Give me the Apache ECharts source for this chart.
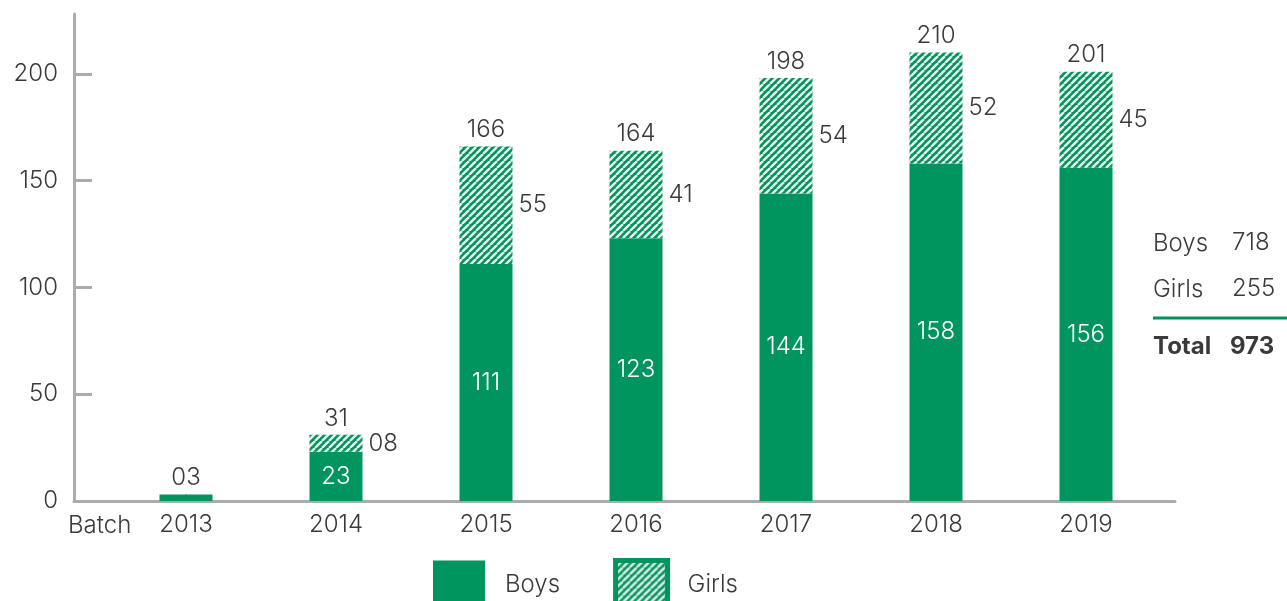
<!DOCTYPE html>
<html>
<head>
<meta charset="utf-8">
<script src="https://cdn.jsdelivr.net/npm/echarts@6/dist/echarts.min.js"></script>
<style>
  html, body { margin: 0; padding: 0; background: #ffffff; }
  #chart { width: 1287px; height: 601px; }
</style>
</head>
<body>
<div id="chart"></div>
<script>
// Intake per batch, split by boys and girls
const batches = ['2013', '2014', '2015', '2016', '2017', '2018', '2019'];
const boys = [3, 23, 111, 123, 144, 158, 156];
const girls = [0, 8, 55, 41, 54, 52, 45];
const totals = [3, 31, 166, 164, 198, 210, 201];
const yTicks = [0, 50, 100, 150, 200];

const GREEN = '#00955f';
const TEXT = '#3a3a3a';
const AXIS = '#a9abae';
const FONT = 'Inter, "Noto Sans", sans-serif';
const FS = 24;
const FW = 300;

// Diagonal white stripes on green for the girls segments
function stripePattern() {
  const p = 7;
  const c = document.createElement('canvas');
  c.width = p; c.height = p;
  const ctx = c.getContext('2d');
  ctx.fillStyle = GREEN;
  ctx.fillRect(0, 0, p, p);
  ctx.strokeStyle = '#e9f1ec';
  ctx.lineWidth = 2.4;
  for (let k = -1; k <= 1; k++) {
    ctx.beginPath();
    ctx.moveTo(k * p, p);
    ctx.lineTo(k * p + p, 0);
    ctx.stroke();
  }
  return c;
}
const hatch = { image: stripePattern(), repeat: 'repeat' };

const pad2 = v => String(v).padStart(2, '0');
const sum = a => a.reduce((s, v) => s + v, 0);
const boysTotal = sum(boys);
const girlsTotal = sum(girls);
const grandTotal = boysTotal + girlsTotal;

const chart = echarts.init(document.getElementById('chart'), null, { renderer: 'canvas' });

const txt = (x, y, text, opts) => Object.assign({
  type: 'text', x: x, y: y,
  style: Object.assign({ text: text, fill: TEXT, font: FW + ' ' + FS + 'px ' + FONT, textVerticalAlign: 'middle' }, opts || {})
});

const labelBase = { fontSize: FS, fontWeight: FW, fontFamily: FONT };

chart.setOption({
  animation: false,
  textStyle: { fontFamily: FONT },
  grid: [
    { left: 111, right: 126, top: 14, bottom: 100 },
    { left: 74, right: 112, top: 14, bottom: 100 }
  ],
  xAxis: [
    {
      type: 'category', data: batches, gridIndex: 0,
      axisLine: { show: false }, axisTick: { show: false },
      axisLabel: Object.assign({ color: TEXT, margin: 12 }, labelBase)
    },
    {
      type: 'value', gridIndex: 1, min: 0, max: 1,
      axisLine: { show: true, onZero: false, lineStyle: { color: AXIS, width: 3 } },
      axisTick: { show: false }, axisLabel: { show: false }, splitLine: { show: false }
    }
  ],
  yAxis: [
    {
      type: 'value', gridIndex: 0, min: 0, max: 228, offset: 37,
      axisLine: { show: true, lineStyle: { color: AXIS, width: 3 } },
      axisTick: { show: true, inside: true, length: 18, customValues: yTicks, lineStyle: { color: AXIS, width: 3 } },
      axisLabel: Object.assign({ customValues: yTicks, color: TEXT, margin: 16 }, labelBase),
      splitLine: { show: false }
    },
    { type: 'value', gridIndex: 1, show: false, min: 0, max: 1 }
  ],
  legend: {
    left: 433, top: 558, padding: 0,
    itemWidth: 52, itemHeight: 48, itemGap: 53,
    icon: 'rect',
    textStyle: Object.assign({ color: TEXT, padding: [0, 0, 0, 15] }, labelBase),
    data: [
      { name: 'Boys' },
      { name: 'Girls', itemStyle: { borderColor: GREEN, borderWidth: 5 } }
    ]
  },
  series: [
    {
      name: 'Boys', type: 'bar', stack: 'intake', barWidth: 53,
      data: boys,
      itemStyle: { color: GREEN },
      label: Object.assign({
        show: true, position: 'inside', color: '#ffffff',
        formatter: p => (p.value >= 10 ? pad2(p.value) : '')
      }, labelBase)
    },
    {
      name: 'Girls', type: 'bar', stack: 'intake', barWidth: 53,
      data: girls,
      itemStyle: { color: hatch },
      label: Object.assign({
        show: true, position: 'right', distance: 6, color: TEXT,
        formatter: p => (p.value > 0 ? pad2(p.value) : '')
      }, labelBase)
    },
    {
      name: 'Total', type: 'scatter', data: totals,
      symbolSize: 1, itemStyle: { color: GREEN, opacity: 1 },
      silent: true, z: 1,
      label: Object.assign({
        show: true, position: 'top', distance: 4, color: TEXT,
        formatter: p => pad2(p.value)
      }, labelBase)
    }
  ],
  graphic: [
    txt(68, 526, 'Batch'),
    txt(1153, 244, 'Boys'),
    txt(1232, 243, String(boysTotal)),
    txt(1153, 290, 'Girls'),
    txt(1232, 289, String(girlsTotal)),
    {
      type: 'line', shape: { x1: 1153, y1: 318, x2: 1287, y2: 318 },
      style: { stroke: GREEN, lineWidth: 3 }
    },
    txt(1153, 347, 'Total', { font: 'bold ' + FS + 'px ' + FONT }),
    txt(1230, 347, String(grandTotal), { font: 'bold ' + FS + 'px ' + FONT })
  ]
});
</script>
</body>
</html>
